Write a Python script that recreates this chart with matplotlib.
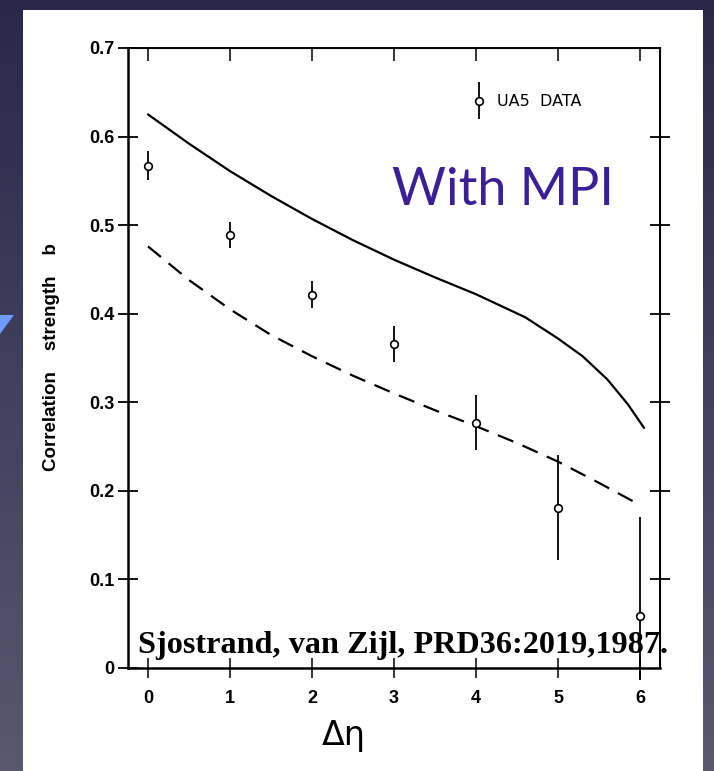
import numpy as np
import matplotlib
matplotlib.use("Agg")
import matplotlib.pyplot as plt
from matplotlib.patches import Rectangle, Polygon
from matplotlib.legend_handler import HandlerErrorbar
from matplotlib.container import ErrorbarContainer

# UA5 data points
eta_data = [0, 1, 2, 3, 4, 5, 6]
b_data = [0.567, 0.489, 0.421, 0.366, 0.277, 0.181, 0.059]
err_up = [0.017, 0.015, 0.016, 0.020, 0.031, 0.060, 0.111]
err_down = [0.016, 0.015, 0.015, 0.020, 0.031, 0.059, 0.073]

# model with multiple interactions (solid)
eta_mpi = [0, 0.5, 1, 1.5, 2, 2.5, 3, 3.5, 4, 4.3, 4.6, 5.0, 5.3, 5.6, 5.85, 6.05]
b_mpi = [0.625, 0.592, 0.561, 0.533, 0.507, 0.483, 0.461, 0.441, 0.422,
         0.409, 0.396, 0.372, 0.352, 0.326, 0.298, 0.271]

# model without multiple interactions (dashed)
eta_nompi = [0, 0.5, 1, 1.5, 2, 2.5, 3, 3.5, 4, 4.5, 5, 5.5, 6]
b_nompi = [0.476, 0.438, 0.405, 0.376, 0.352, 0.330, 0.310, 0.291, 0.273,
           0.254, 0.233, 0.209, 0.184]

x_ticks = [0, 1, 2, 3, 4, 5, 6]
y_ticks = [0, 0.1, 0.2, 0.3, 0.4, 0.5, 0.6, 0.7]
y_ticks_right = [0.1, 0.2, 0.3, 0.4, 0.5, 0.6]

W, H = 714, 771
fig = plt.figure(figsize=(W / 100, H / 100), dpi=100)

# slide background
bg = fig.add_axes([0, 0, 1, 1])
bg.set_axis_off()
top_c = np.array([0x2a, 0x28, 0x4a]) / 255
bot_c = np.array([0x58, 0x58, 0x70]) / 255
t = np.linspace(0, 1, 256)[:, None]
grad = top_c[None, None, :] * (1 - t[..., None]) + bot_c[None, None, :] * t[..., None]
grad = np.repeat(grad, 2, axis=1)
bg.imshow(grad, extent=[0, 1, 0, 1], aspect='auto', origin='upper')
bg.add_patch(Rectangle((23 / W, 0), (703 - 23) / W, 1 - 10 / H,
                       facecolor='white', edgecolor='none'))
bg.add_patch(Polygon([(0, 1 - 315 / H), (14 / W, 1 - 315 / H), (0, 1 - 334 / H)],
                     closed=True, facecolor='#6f9cff', edgecolor='none'))
bg.set_xlim(0, 1)
bg.set_ylim(0, 1)

ax = fig.add_axes([128 / W, 103 / H, 532 / W, 620 / H])
ax.set_facecolor('none')

ax.plot(eta_mpi, b_mpi, color='black', lw=1.6, solid_capstyle='round')
ax.plot(eta_nompi, b_nompi, color='black', lw=1.6, ls=(0, (7.5, 4.5)))

eb = ax.errorbar(eta_data, b_data, yerr=[err_down, err_up], fmt='o',
                 mfc='white', mec='black', ms=5.5, mew=1.2,
                 ecolor='black', elinewidth=1.3, capsize=0, zorder=4,
                 label='UA5  DATA')
for art in eb.get_children():
    art.set_clip_on(False)

ax.set_xlim(-0.244, 6.244)
ax.set_ylim(0, 0.7)
ax.set_xticks(x_ticks)
ax.set_yticks(y_ticks)
ax.set_xticklabels([str(v) for v in x_ticks])
ax.set_yticklabels(['0' if v == 0 else f'{v:.1f}' for v in y_ticks])

for s in ax.spines.values():
    s.set_linewidth(1.4)
ax.spines['left'].set_linewidth(1.8)
ax.spines['bottom'].set_linewidth(1.8)

ax.tick_params(axis='y', direction='inout', length=14, width=1.3, pad=3,
               labelsize=13)
ax.tick_params(axis='x', direction='inout', length=15, width=1.1, pad=8,
               labelsize=13)
for lab in ax.get_xticklabels() + ax.get_yticklabels():
    lab.set_fontfamily('Liberation Sans')
    lab.set_fontweight('bold')

top = ax.secondary_xaxis('top')
top.set_xticks(x_ticks)
top.tick_params(direction='in', length=9, width=1.1, labeltop=False)
right = ax.secondary_yaxis('right')
right.set_yticks(y_ticks_right)
right.tick_params(direction='inout', length=15, width=1.3, labelright=False)

ax.set_ylabel('Correlation    strength    b', fontsize=13.5, fontweight='bold',
              family='Liberation Sans')
ax.yaxis.set_label_coords(-0.128, 0.502)
ax.set_xlabel('\u0394\u03b7', fontsize=24, family='DejaVu Sans')
ax.xaxis.set_label_coords(0.406, -0.082)

ax.legend(handles=[eb], loc='center left', bbox_to_anchor=(0.6475, 0.913),
          frameon=False, borderpad=0, borderaxespad=0, handlelength=0.8,
          handletextpad=0.75, numpoints=1,
          prop={'family': 'DejaVu Sans', 'size': 11.5},
          handler_map={ErrorbarContainer: HandlerErrorbar(yerr_size=1.15)})

ax.text(0.496, 0.747, 'With MPI', transform=ax.transAxes, fontsize=37.5,
        family='Lato', color='#3a1f98', va='baseline', ha='left')
ax.text(0.019, 0.024, 'Sjostrand, van Zijl, PRD36:2019,1987.',
        transform=ax.transAxes, fontsize=23.2, family='Liberation Serif',
        fontweight='bold', va='baseline', ha='left', zorder=2, clip_on=False)

fig.savefig('out.png', dpi=100)
